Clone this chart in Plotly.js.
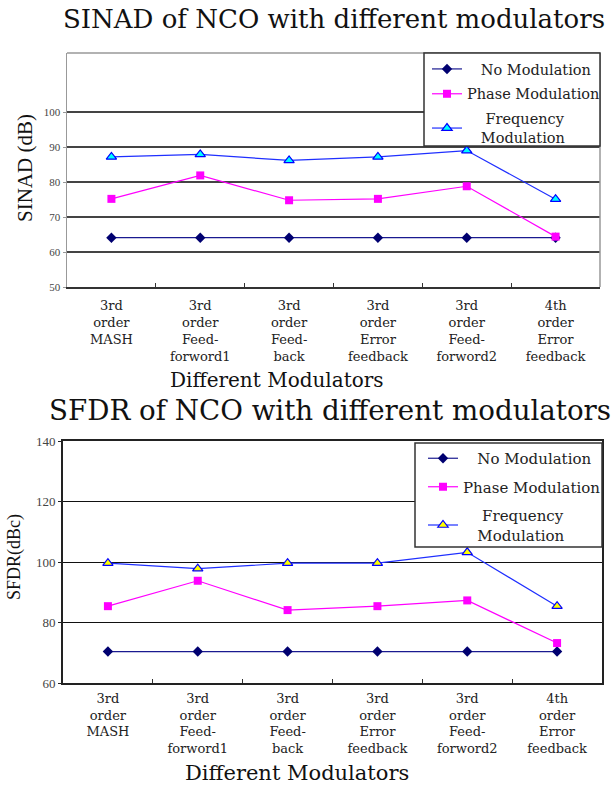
<!DOCTYPE html>
<html>
<head>
<meta charset="utf-8">
<script src="https://cdn.plot.ly/plotly-3.0.1.min.js"></script>
<style>html,body{margin:0;padding:0;background:#fff;}#chart{width:613px;height:785px;}</style>
</head>
<body>
<div id="chart"></div>
<script>
const categories = ['3rd order MASH', '3rd order Feed-forword1', '3rd order Feed-back', '3rd order Error feedback', '3rd order Feed-forword2', '4th order Error feedback'];
const tickLabels = ['3rd<br>order<br>MASH', '3rd<br>order<br>Feed-<br>forword1', '3rd<br>order<br>Feed-<br>back', '3rd<br>order<br>Error<br>feedback', '3rd<br>order<br>Feed-<br>forword2', '4th<br>order<br>Error<br>feedback'];
const seriesNames = ['\u00a0\u00a0\u00a0No Modulation', 'Phase Modulation', '\u00a0\u00a0\u00a0\u00a0Frequency<br>\u00a0\u00a0\u00a0Modulation'];

const sinadNoMod = [64.1, 64.1, 64.1, 64.1, 64.1, 64.1];
const sinadPhase = [75.2, 81.9, 74.8, 75.2, 78.8, 64.4];
const sinadFreq  = [87.2, 87.9, 86.2, 87.2, 89.0, 75.1];

const sfdrNoMod = [70.4, 70.4, 70.4, 70.4, 70.4, 70.4];
const sfdrPhase = [85.4, 93.8, 84.1, 85.4, 87.3, 73.2];
const sfdrFreq  = [99.6, 97.8, 99.6, 99.6, 103.2, 85.4];

const sinadTicks = [50, 60, 70, 80, 90, 100];
const sfdrTicks = [60, 80, 100, 120, 140];

const W = 613, H = 785;
const px = v => v / W;
const py = v => 1 - v / H;
const DSERIF = '"DejaVu Serif", serif';
const SERIF = '"Liberation Serif", "Times New Roman", serif';

function mk(x, y, name, ax, leg, grp, marker, lineColor) {
  return {
    type: 'scatter', mode: 'lines+markers', x: x, y: y, name: name,
    xaxis: ax[0], yaxis: ax[1], legend: leg, legendgroup: grp,
    line: {color: lineColor, width: 1.2},
    marker: marker, cliponaxis: false
  };
}

const data = [
  mk(categories, sinadNoMod, seriesNames[0], ['x', 'y'], 'legend', 'a1',
     {symbol: 'diamond', size: 8, color: '#000070', line: {color: '#000070', width: 0}}, '#1a1a90'),
  mk(categories, sinadPhase, seriesNames[1], ['x', 'y'], 'legend', 'a2',
     {symbol: 'square', size: 8, color: '#ff00ff', line: {color: '#ff00ff', width: 0}}, '#ff00ff'),
  mk(categories, sinadFreq, seriesNames[2], ['x', 'y'], 'legend', 'a3',
     {symbol: 'triangle-up', size: 9, color: '#00ffff', line: {color: '#0000ff', width: 1.2}}, '#1f2fff'),
  mk(categories, sfdrNoMod, seriesNames[0], ['x2', 'y2'], 'legend2', 'b1',
     {symbol: 'diamond', size: 8, color: '#000070', line: {color: '#000070', width: 0}}, '#1a1a90'),
  mk(categories, sfdrPhase, seriesNames[1], ['x2', 'y2'], 'legend2', 'b2',
     {symbol: 'square', size: 8, color: '#ff00ff', line: {color: '#ff00ff', width: 0}}, '#ff00ff'),
  mk(categories, sfdrFreq, seriesNames[2], ['x2', 'y2'], 'legend2', 'b3',
     {symbol: 'triangle-up', size: 9, color: '#ffff00', line: {color: '#0000ff', width: 1.2}}, '#1f2fff')
];

const xCommon = {
  type: 'category', tickmode: 'array', tickvals: categories, ticktext: tickLabels,
  range: [-0.5, 5.5], ticks: 'inside', tickson: 'boundaries', ticklen: 4, tickwidth: 1,
  tickcolor: '#333', showline: true, showgrid: false, zeroline: false, fixedrange: true
};

const layout = {
  width: W, height: H,
  margin: {l: 0, r: 0, t: 0, b: 0},
  paper_bgcolor: '#fff', plot_bgcolor: '#fff',
  showlegend: true,
  xaxis: Object.assign({}, xCommon, {
    domain: [px(67), px(600)], anchor: 'y',
    linecolor: '#333', linewidth: 1.5,
    tickfont: {family: DSERIF, size: 13, color: '#222'}, ticklabelstandoff: 6
  }),
  yaxis: {
    domain: [py(287), py(53)], anchor: 'x', range: [50, 116.9],
    tickmode: 'array', tickvals: sinadTicks, ticks: 'outside', ticklen: 3, tickcolor: '#999',
    showline: true, linecolor: '#999', linewidth: 1.5,
    showgrid: true, gridcolor: '#444', gridwidth: 1.5, zeroline: false,
    tickfont: {family: SERIF, size: 11, color: '#444'}, fixedrange: true
  },
  xaxis2: Object.assign({}, xCommon, {
    domain: [px(63), px(602)], anchor: 'y2',
    linecolor: '#222', linewidth: 2, mirror: true,
    tickfont: {family: DSERIF, size: 13, color: '#222'}, ticklabelstandoff: 2
  }),
  yaxis2: {
    domain: [py(683), py(441)], anchor: 'x2', range: [60, 140],
    tickmode: 'array', tickvals: sfdrTicks, ticks: 'outside', ticklen: 3, tickcolor: '#222',
    showline: true, linecolor: '#222', linewidth: 2, mirror: true,
    showgrid: true, gridcolor: '#111', gridwidth: 1, zeroline: false,
    tickfont: {family: SERIF, size: 13, color: '#444'}, fixedrange: true
  },
  legend: {
    x: px(427), y: py(53), xanchor: 'left', yanchor: 'top',
    bgcolor: 'rgba(0,0,0,0)', borderwidth: 0, tracegroupgap: 3,
    font: {family: DSERIF, size: 14.5, color: '#222'}
  },
  legend2: {
    x: px(423), y: py(442), xanchor: 'left', yanchor: 'top',
    bgcolor: 'rgba(0,0,0,0)', borderwidth: 0, tracegroupgap: 6,
    font: {family: DSERIF, size: 15, color: '#222'}
  },
  shapes: [
    {type: 'line', xref: 'paper', yref: 'paper', x0: px(67), x1: px(600), y0: py(53), y1: py(53),
     line: {color: '#999', width: 1.5}, layer: 'above'},
    {type: 'line', xref: 'paper', yref: 'paper', x0: px(600), x1: px(600), y0: py(53), y1: py(287),
     line: {color: '#999', width: 1.5}, layer: 'above'},
    {type: 'rect', xref: 'paper', yref: 'paper', x0: px(424), x1: px(600), y0: py(146), y1: py(53),
     line: {color: '#333', width: 1.5}, fillcolor: '#fff', layer: 'above'},
    {type: 'rect', xref: 'paper', yref: 'paper', x0: px(415), x1: px(602), y0: py(547), y1: py(443),
     line: {color: '#333', width: 1.5}, fillcolor: '#fff', layer: 'above'}
  ],
  annotations: [
    {text: 'SINAD of NCO with different modulators', xref: 'paper', yref: 'paper',
     x: px(334), y: py(19), xanchor: 'center', yanchor: 'middle', showarrow: false,
     font: {family: DSERIF, size: 26, color: '#111'}},
    {text: 'SFDR of NCO with different modulators', xref: 'paper', yref: 'paper',
     x: px(330), y: py(410), xanchor: 'center', yanchor: 'middle', showarrow: false,
     font: {family: DSERIF, size: 27.7, color: '#111'}},
    {text: 'Different Modulators', xref: 'paper', yref: 'paper',
     x: px(277), y: py(380), xanchor: 'center', yanchor: 'middle', showarrow: false,
     font: {family: DSERIF, size: 20, color: '#111'}},
    {text: 'Different Modulators', xref: 'paper', yref: 'paper',
     x: px(297), y: py(773), xanchor: 'center', yanchor: 'middle', showarrow: false,
     font: {family: DSERIF, size: 21, color: '#111'}},
    {text: 'SINAD (dB)', xref: 'paper', yref: 'paper', textangle: -90,
     x: px(25), y: py(168), xanchor: 'center', yanchor: 'middle', showarrow: false,
     font: {family: SERIF, size: 21, color: '#111'}},
    {text: 'SFDR(dBc)', xref: 'paper', yref: 'paper', textangle: -90,
     x: px(14), y: py(557), xanchor: 'center', yanchor: 'middle', showarrow: false,
     font: {family: SERIF, size: 18, color: '#111'}}
  ]
};

Plotly.newPlot('chart', data, layout, {staticPlot: true, displayModeBar: false});
</script>
</body>
</html>
